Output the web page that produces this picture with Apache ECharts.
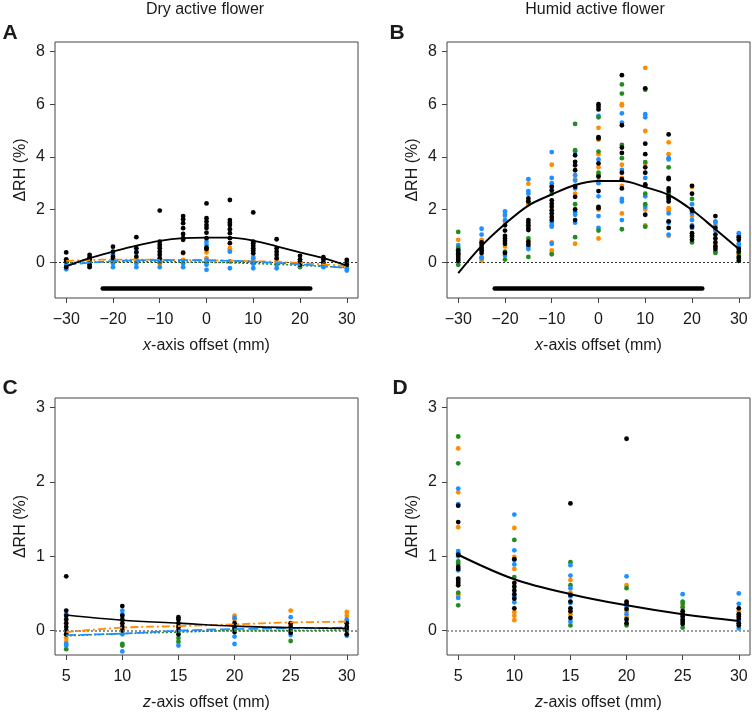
<!DOCTYPE html>
<html><head><meta charset="utf-8">
<script src="https://cdn.jsdelivr.net/npm/echarts@6/dist/echarts.min.js"></script>
<style>html,body{margin:0;padding:0;background:#fff}#c{width:752px;height:715px}</style>
</head><body><div id="c"></div>
<script>
// ---------- DATA ----------
const xTicksTop = [-30,-20,-10,0,10,20,30];
const yTicksTop = [0,2,4,6,8];
const xTicksBottom = [5,10,15,20,25,30];
const yTicksBottom = [0,1,2,3];
const fitXTop = [-30,-25,-20,-15,-10,-5,0,5,10,15,20,25,30];
const fitXBottom = [5,10,15,20,25,30];
const flowerBar = [-22.2, 22.2];
const flowerBarLevel = -1;

// Panel A - Dry, x-axis
const aBlack = [[-30,0.37],[-30,0.11],[-30,0.03],[-30,-0.19],[-25,0.28],[-25,0.19],[-25,0.11],[-25,-0.1],[-25,-0.19],
 [-20,0.59],[-20,0.4],[-20,0.21],[-20,0.13],[-15,0.95],[-15,0.53],[-15,0.37],[-15,0.21],
 [-10,1.96],[-10,0.78],[-10,0.66],[-10,0.53],[-10,0.4],[-10,0.28],[-10,0.15],
 [-5,1.75],[-5,1.63],[-5,1.48],[-5,1.29],[-5,1.07],[-5,0.91],[-5,0.85],[-5,0.36],
 [0,2.23],[0,1.67],[0,1.54],[0,1.41],[0,1.3],[0,1.12],[0,0.91],[0,0.55],[0,0.5],
 [5,2.36],[5,1.6],[5,1.5],[5,1.41],[5,1.25],[5,1.1],[5,0.91],[5,0.72],
 [10,1.89],[10,0.78],[10,0.72],[10,0.62],[10,0.53],[10,0.44],[10,0.34],
 [15,0.87],[15,0.53],[15,0.4],[15,0.28],[15,0.15],[20,0.24],[20,0.11],[20,0.03],[20,-0.1],
 [25,0.19],[25,0.09],[25,-0.01],[30,0.09],[30,-0.01],[30,-0.1]];
const aOrange = [[-30,0.09],[-25,0.05],[-20,0.09],[-15,0.11],[-10,0.09],[-10,-0.05],[-5,0.34],[-5,0.09],[0,0.47],[0,0.37],[0,0.15],
 [5,0.53],[5,0.45],[10,0.21],[10,0.05],[15,0.09],[20,-0.05],[25,-0.05],[30,-0.1]];
const aBlue = [[-30,-0.1],[-30,-0.27],[-25,0.03],[-25,-0.12],[-20,0.3],[-20,-0.04],[-20,-0.19],[-15,0.4],[-15,-0.04],[-15,-0.19],
 [-10,0.59],[-10,0.03],[-10,-0.19],[-5,-0.04],[-5,-0.19],[0,0.78],[0,0.66],[0,0.09],[0,-0.1],[0,-0.29],
 [5,0.4],[5,0.03],[5,-0.23],[10,0.15],[10,-0.04],[10,-0.23],[15,-0.1],[15,-0.23],[20,-0.14],[25,-0.19],[25,-0.1],[30,-0.23],[30,-0.32]];
const aGreen = [[-30,0.0],[-20,0.02],[-10,0.0],[0,-0.02],[10,-0.05],[20,-0.19],[25,-0.1],[30,-0.14]];
const aFitBlack  = [-0.16,0.15,0.4,0.63,0.81,0.91,0.93,0.93,0.82,0.6,0.37,0.15,-0.13];
const aFitOrange = [0.05,0.08,0.1,0.1,0.09,0.08,0.07,0.06,0.04,0.01,-0.03,-0.08,-0.15];
const aFitBlue   = [-0.1,-0.02,0.04,0.07,0.08,0.08,0.07,0.05,0.02,-0.03,-0.08,-0.15,-0.22];
const aFitGreen  = [-0.02,0.0,0.01,0.02,0.02,0.01,0.0,-0.02,-0.05,-0.08,-0.12,-0.16,-0.2];

// Panel B - Humid, x-axis
const bOrange = [[-30,0.85],[-30,0.3],[-25,0.85],[-25,0.75],[-25,0.05],[-20,1.75],[-20,1.55],[-20,0.6],[-15,2.98],[-15,2.2],[-15,0.75],
 [-10,3.7],[-10,2.9],[-10,0.75],[-10,0.45],[-10,0.35],[-5,3.15],[-5,2.6],[-5,0.7],[0,5.1],[0,4.65],[0,4.1],[0,3.6],[0,3.1],[0,2.0],[0,0.9],
 [5,6.0],[5,5.95],[5,3.7],[5,3.2],[5,2.9],[5,1.85],[10,7.38],[10,4.98],[10,3.75],[10,2.0],[10,1.4],
 [15,4.55],[15,4.1],[15,2.05],[15,1.95],[15,1.0],[20,2.85],[20,1.75],[25,1.4],[25,0.65],[30,0.65],[30,0.3]];
const bBlue = [[-30,0.65],[-30,0.5],[-30,0.35],[-25,1.27],[-25,1.05],[-25,0.2],[-25,0.15],[-20,1.93],[-20,1.8],[-20,1.6],[-20,0.25],
 [-15,3.15],[-15,2.7],[-15,2.6],[-15,0.6],[-15,0.5],[-10,4.18],[-10,3.2],[-10,3.0],[-10,1.5],[-10,1.4],[-10,1.35],[-10,0.7],
 [-5,4.2],[-5,3.3],[-5,3.1],[-5,2.8],[-5,1.9],[-5,1.8],[-5,1.5],[0,5.55],[0,3.9],[0,3.0],[0,2.5],[0,1.75],[0,1.3],
 [5,5.65],[5,5.3],[5,3.5],[5,2.4],[5,2.3],[5,1.6],[10,5.62],[10,5.5],[10,3.2],[10,2.5],[10,2.1],
 [15,3.95],[15,3.9],[15,2.45],[15,1.85],[15,1.5],[15,1.05],[20,2.2],[20,1.85],[20,1.6],[20,1.4],[20,1.3],
 [25,1.55],[25,1.5],[25,1.2],[30,1.1],[30,1.0],[30,0.7],[30,0.6]];
const bGreen = [[-30,1.15],[-30,0.55],[-30,-0.1],[-25,0.5],[-20,0.1],[-20,0.4],[-15,2.3],[-15,0.9],[-15,0.2],[-10,2.6],[-10,0.3],
 [-5,5.25],[-5,4.25],[-5,2.9],[-5,2.2],[-5,0.95],[0,5.5],[0,4.2],[0,3.4],[0,3.3],[0,1.2],[5,6.75],[5,6.4],[5,4.45],[5,3.95],[5,1.25],
 [10,6.55],[10,3.8],[10,2.6],[10,2.2],[10,1.35],[15,3.6],[15,2.6],[20,2.4],[20,0.95],[20,0.75],[25,0.4],[25,0.35],[30,0.35],[30,0.15]];
const bBlack = [[-30,0.45],[-30,0.35],[-30,0.28],[-30,0.2],[-30,0.12],[-30,0.05],[-25,0.75],[-25,0.65],[-25,0.55],[-25,0.45],[-25,0.35],
 [-20,1.4],[-20,1.2],[-20,1.0],[-20,0.9],[-20,0.8],[-20,0.7],[-20,0.35],[-15,2.42],[-15,2.3],[-15,1.6],[-15,1.5],[-15,1.4],[-15,1.3],[-15,1.22],[-15,0.78],[-15,0.66],
 [-10,2.86],[-10,2.73],[-10,2.35],[-10,2.22],[-10,2.1],[-10,1.97],[-10,1.85],[-10,1.72],[-10,1.6],
 [-5,4.06],[-5,3.81],[-5,3.68],[-5,3.49],[-5,2.86],[-5,2.48],[-5,2.0],[-5,1.6],
 [0,6.0],[0,5.9],[0,5.8],[0,4.75],[0,4.7],[0,3.75],[0,3.25],[0,2.7],[0,2.1],[0,2.05],
 [5,7.1],[5,5.2],[5,4.35],[5,4.15],[5,3.4],[5,3.15],[5,2.8],[10,6.6],[10,4.5],[10,4.1],[10,3.6],[10,3.4],[10,2.95],[10,2.9],[10,1.8],
 [15,4.85],[15,3.2],[15,3.15],[15,2.8],[15,2.7],[15,2.5],[15,2.4],[15,2.3],[15,1.55],[15,1.3],
 [20,2.9],[20,2.6],[20,2.0],[20,1.95],[20,1.35],[20,1.1],[20,1.0],[20,0.85],
 [25,1.75],[25,1.3],[25,1.05],[25,0.9],[25,0.75],[25,0.6],[25,0.5],[30,0.95],[30,0.85],[30,0.5],[30,0.4],[30,0.2],[30,0.05]];
const bFitBlack = [-0.42,0.62,1.45,2.15,2.57,2.93,3.08,3.08,2.85,2.55,1.98,1.25,0.5];

// Panel C - Dry, z-axis
const cBlack = [[5,0.73],[5,0.27],[5,0.2],[5,0.15],[5,0.1],[5,0.05],[5,0.0],[5,-0.05],[10,0.33],[10,0.2],[10,0.15],[10,0.1],[10,0.05],[10,0.0],
 [15,0.18],[15,0.15],[15,0.1],[15,0.05],[15,0.0],[15,-0.05],[20,0.1],[20,0.05],[20,0.02],[20,-0.02],
 [25,0.1],[25,0.05],[25,0.0],[25,-0.03],[30,0.1],[30,0.05],[30,0.0],[30,-0.05]];
const cOrange = [[5,-0.02],[5,-0.1],[5,-0.15],[10,0.02],[15,0.05],[20,0.2],[20,0.15],[25,0.27],[25,0.08],[30,0.25],[30,0.2],[30,0.12]];
const cBlue = [[5,0.22],[5,-0.05],[5,-0.18],[5,-0.2],[10,0.27],[10,0.22],[10,-0.05],[10,-0.28],[15,0.0],[15,-0.2],
 [20,0.17],[20,-0.08],[20,-0.18],[25,0.18],[25,-0.06],[30,0.15],[30,-0.07]];
const cGreen = [[5,-0.25],[10,-0.18],[10,-0.2],[15,-0.1],[15,-0.15],[20,0.0],[25,-0.14],[30,0.02]];
const cFitBlack  = [0.21,0.14,0.1,0.06,0.04,0.03];
const cFitOrange = [-0.02,0.04,0.06,0.085,0.11,0.12];
const cFitBlue   = [-0.06,-0.04,0.0,0.02,0.03,0.04];
const cFitGreen  = [-0.07,-0.04,-0.02,0.0,0.0,0.01];

// Panel D - Humid, z-axis
const dBlack = [[5,1.68],[5,1.46],[5,1.02],[5,0.86],[5,0.83],[5,0.7],[5,0.67],[5,0.64],[5,0.61],[10,0.96],[10,0.64],[10,0.59],[10,0.54],[10,0.49],[10,0.43],[10,0.3],
 [15,1.71],[15,0.48],[15,0.39],[15,0.3],[15,0.26],[15,0.17],[20,2.58],[20,0.39],[20,0.36],[20,0.29],[20,0.15],[20,0.1],
 [25,0.26],[25,0.22],[25,0.19],[25,0.15],[25,0.12],[25,0.09],[30,0.3],[30,0.22],[30,0.19],[30,0.16],[30,0.1],[30,0.07]];
const dOrange = [[5,2.45],[5,1.86],[5,1.39],[5,0.49],[5,0.47],[10,1.38],[10,0.99],[10,0.83],[10,0.25],[10,0.2],[10,0.14],
 [15,0.68],[15,0.51],[15,0.22],[20,0.61],[20,0.26],[20,0.18],[25,0.33],[30,0.26]];
const dBlue = [[5,1.91],[5,1.7],[5,1.07],[5,1.04],[5,1.0],[5,0.81],[5,0.44],[10,1.56],[10,1.08],[10,0.95],[10,0.89],[10,0.46],[10,0.38],
 [15,0.88],[15,0.74],[15,0.57],[15,0.46],[15,0.37],[15,0.12],[20,0.73],[20,0.32],[20,0.22],[25,0.49],[30,0.5],[30,0.36],[30,0.13],[30,0.03]];
const dGreen = [[5,2.61],[5,2.25],[5,0.93],[5,0.9],[5,0.51],[5,0.34],[10,1.22],[10,0.72],[15,0.92],[15,0.61],[15,0.07],[20,0.57],[20,0.07],
 [25,0.39],[25,0.36],[25,0.31],[25,0.04]];
const dFitBlack = [1.02,0.69,0.49,0.34,0.22,0.13];

// ---------- CHART ----------
const FONT = '"Liberation Sans", Arial, Helvetica, sans-serif';
const COL = {black:'#000000', orange:'#FF8C00', blue:'#1E90FF', green:'#228B22'};
const TXT = '#1a1a1a';

const grids = [
  {left:55, top:42, width:303, height:256},
  {left:447, top:42, width:303, height:256},
  {left:55, top:398, width:303, height:257},
  {left:447, top:398, width:303, height:257}
].map(g => Object.assign({show:true, borderColor:'#444', borderWidth:1, backgroundColor:'transparent'}, g));

const fmt = v => v < 0 ? '\u2212' + Math.abs(v) : String(v);

function xAx(gi, min, max, ticks, letter) {
  return {
    type:'value', gridIndex:gi, min, max, position:'bottom',
    axisLine:{show:false, onZero:false}, splitLine:{show:false},
    axisTick:{show:true, customValues:ticks, length:5, lineStyle:{color:'#444'}},
    axisLabel:{customValues:ticks, fontSize:16, color:TXT, fontFamily:FONT, margin:14, formatter:fmt},
    name:'{i|' + letter + '}-axis offset (mm)', nameLocation:'middle', nameGap:40,
    nameTextStyle:{fontSize:16, fontFamily:FONT, color:TXT,
      rich:{i:{fontStyle:'italic', fontSize:16, fontFamily:FONT, color:TXT}}}
  };
}
function yAx(gi, min, max, ticks) {
  return {
    type:'value', gridIndex:gi, min, max, position:'left',
    axisLine:{show:false, onZero:false}, splitLine:{show:false},
    axisTick:{show:true, customValues:ticks, length:5, lineStyle:{color:'#444'}},
    axisLabel:{customValues:ticks, fontSize:16, color:TXT, fontFamily:FONT, margin:10, formatter:fmt},
    name:'\u0394RH (%)', nameLocation:'middle', nameGap:26, nameRotate:90,
    nameTextStyle:{fontSize:16, fontFamily:FONT, color:TXT}
  };
}

function sc(gi, data, color) {
  return {type:'scatter', xAxisIndex:gi, yAxisIndex:gi, data, symbolSize:4.8, symbol:'circle',
    itemStyle:{color, opacity:1}, silent:true, z:3};
}
function fit(gi, xs, ys, color, type, width) {
  return {type:'line', xAxisIndex:gi, yAxisIndex:gi, data:xs.map((x,i)=>[x, ys[i]]),
    showSymbol:false, symbol:'none', smooth:0.35, silent:true, z:5,
    lineStyle:{color, width, type}};
}
function zero(gi, color, width) {
  return {type:'line', xAxisIndex:gi, yAxisIndex:gi, data:[], silent:true, z:1,
    markLine:{silent:true, symbol:['none','none'], label:{show:false}, animation:false,
      lineStyle:{type:[2,2], color, width}, emphasis:{disabled:true}, data:[{yAxis:0}]}};
}
function bar(gi) {
  return {type:'line', xAxisIndex:gi, yAxisIndex:gi, data:flowerBar.map(x=>[x, flowerBarLevel]),
    showSymbol:false, symbol:'none', silent:true, z:4, lineStyle:{color:'#000', width:4.5, cap:'round'}};
}

const dashOrange = [8,3,2,3];
const dashBlue = [10,4];
const dashGreen = [2,2];

const series = [
  zero(0,'#333',1), zero(1,'#333',1), zero(2,'#777',1.6), zero(3,'#888',1.6),
  bar(0), bar(1),
  // A
  sc(0,aOrange,COL.orange), sc(0,aGreen,COL.green), sc(0,aBlue,COL.blue), sc(0,aBlack,COL.black),
  fit(0,fitXTop,aFitGreen,COL.green,dashGreen,1.6),
  fit(0,fitXTop,aFitOrange,COL.orange,dashOrange,1.8),
  fit(0,fitXTop,aFitBlue,COL.blue,dashBlue,1.8),
  fit(0,fitXTop,aFitBlack,COL.black,'solid',1.8),
  // B
  sc(1,bOrange,COL.orange), sc(1,bBlue,COL.blue), sc(1,bGreen,COL.green), sc(1,bBlack,COL.black),
  fit(1,fitXTop,bFitBlack,COL.black,'solid',2),
  // C
  sc(2,cOrange,COL.orange), sc(2,cGreen,COL.green), sc(2,cBlue,COL.blue), sc(2,cBlack,COL.black),
  fit(2,fitXBottom,cFitGreen,COL.green,dashGreen,1.6),
  fit(2,fitXBottom,cFitOrange,COL.orange,dashOrange,1.8),
  fit(2,fitXBottom,cFitBlue,COL.blue,dashBlue,1.8),
  fit(2,fitXBottom,cFitBlack,COL.black,'solid',1.6),
  // D
  sc(3,dOrange,COL.orange), sc(3,dGreen,COL.green), sc(3,dBlue,COL.blue), sc(3,dBlack,COL.black),
  fit(3,fitXBottom,dFitBlack,COL.black,'solid',2)
];

function txt(text, x, y, size, bold) {
  return {type:'text', x, y, silent:true, z:10,
    style:{text, fill:TXT, font:(bold?'bold ':'') + size + 'px ' + FONT, align:'center', verticalAlign:'middle'}};
}

const option = {
  animation:false,
  backgroundColor:'#ffffff',
  grid:grids,
  xAxis:[xAx(0,-32.4,32.4,xTicksTop,'x'), xAx(1,-32.4,32.4,xTicksTop,'x'), xAx(2,4,31,xTicksBottom,'z'), xAx(3,4,31,xTicksBottom,'z')],
  yAxis:[yAx(0,-1.36,8.36,yTicksTop), yAx(1,-1.36,8.36,yTicksTop), yAx(2,-0.328,3.128,yTicksBottom), yAx(3,-0.328,3.128,yTicksBottom)],
  series,
  graphic:[
    txt('Dry active flower', 205, 10, 16, false),
    txt('Humid active flower', 595, 10, 16, false),
    txt('A', 10, 33, 21, true),
    txt('B', 397, 33, 21, true),
    txt('C', 10, 388, 21, true),
    txt('D', 400, 388, 21, true)
  ]
};

const chart = echarts.init(document.getElementById('c'), null, {renderer:'canvas'});
chart.setOption(option);
</script>
</body></html>
